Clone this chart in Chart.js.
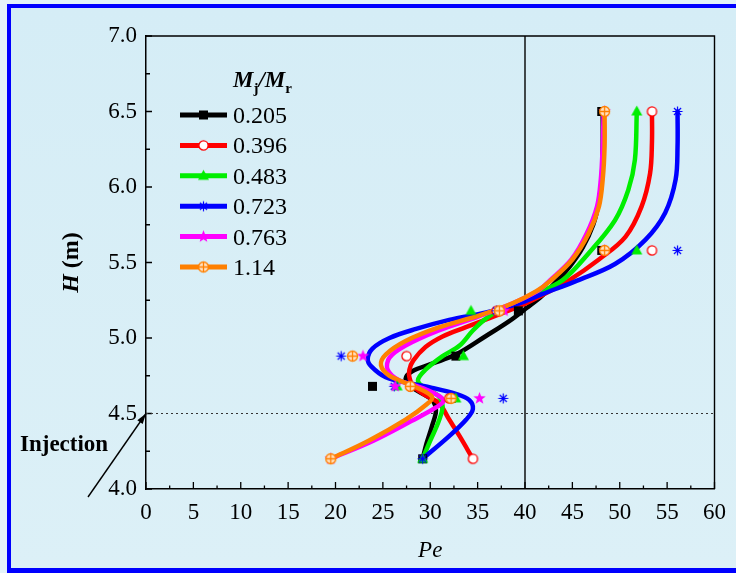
<!DOCTYPE html>
<html>
<head>
<meta charset="utf-8">
<script src="https://cdn.jsdelivr.net/npm/chart.js@4.4.1/dist/chart.umd.min.js"></script>
<style>
  html, body { margin: 0; padding: 0; }
  body { width: 736px; height: 573px; overflow: hidden; background: #e4f3f9; position: relative; }
  #frame {
    position: absolute; left: 7px; top: 4px; width: 740px; height: 560px;
    border-left: 4px solid #0000ff; border-top: 4px solid #0000ff; border-bottom: 5px solid #0000ff;
    background: linear-gradient(#d5edf6, #dcf0f7);
  }
  #chart { position: absolute; left: 0; top: 0; }
</style>
</head>
<body>
<div id="frame"></div>
<canvas id="chart" width="736" height="573"></canvas>
<script>
// Mj/Mr ratios (legend labels)
const ratios = ['0.205', '0.396', '0.483', '0.723', '0.763', '1.14'];
const colors = ['#000000', '#ff0000', '#00ee00', '#0000ff', '#ff00ff', '#ff8000'];
const markerKinds = ['square', 'circle', 'triangle', 'asterisk', 'star', 'oplus'];

// measured heights (m) and Pe at each height
const heights = [4.2, 4.6, 4.68, 4.88, 5.18, 5.58, 6.5];
const pe0205 = [29.2, 32.2, 23.9, 32.7, 39.3, 48.1, 48.1];
const pe0396 = [34.5, 32.0, 27.9, 27.5, 37.0, 53.4, 53.4];
const pe0483 = [29.2, 32.7, 26.5, 33.5, 34.3, 51.8, 51.8];
const pe0723 = [29.2, 37.7, 26.2, 20.6, 37.0, 56.1, 56.1];
const pe0763 = [19.5, 35.2, 26.3, 22.9, 37.8, 48.4, 48.4];
const pe114 = [19.5, 32.2, 27.9, 21.8, 37.3, 48.4, 48.4];

// fitted curves as [Pe, H]
const fit0205 = [[29.2,4.2],[29.6,4.3],[30.2,4.42],[30.6,4.52],[30.2,4.59],[29.2,4.63],[27.9,4.68],[27.4,4.73],[28.1,4.78],[30.2,4.83],[32.7,4.89],[35.8,5.01],[38.3,5.11],[40.2,5.2],[41.8,5.28],[43.4,5.38],[44.8,5.48],[46.1,5.6],[47.2,5.75],[47.8,5.9],[48.1,6.05],[48.2,6.27],[48.2,6.5]];
const fit0396 = [[34.5,4.2],[33.1,4.35],[32.0,4.46],[30.9,4.57],[29.5,4.62],[28.2,4.68],[27.8,4.74],[27.8,4.79],[28.2,4.85],[29.5,4.94],[31.3,5.01],[33.7,5.07],[36.6,5.14],[39.4,5.21],[41.7,5.28],[44.6,5.38],[47.8,5.52],[50.6,5.67],[52.3,5.87],[53.2,6.09],[53.4,6.3],[53.4,6.5]];
const fit0483 = [[29.2,4.2],[30.0,4.32],[30.9,4.45],[31.3,4.55],[30.8,4.62],[29.4,4.67],[28.7,4.72],[29.5,4.79],[31.3,4.88],[33.1,4.95],[34.5,5.05],[35.9,5.13],[37.5,5.19],[40.3,5.27],[43.9,5.38],[46.7,5.56],[49.5,5.78],[50.9,5.98],[51.6,6.18],[51.8,6.5]];
const fit0723 = [[29.2,4.2],[32.0,4.35],[33.8,4.46],[34.5,4.53],[34.1,4.59],[32.7,4.63],[30.2,4.67],[27.8,4.7],[25.3,4.74],[23.8,4.81],[23.4,4.86],[23.9,4.93],[25.7,5.0],[28.5,5.06],[32.0,5.12],[35.9,5.17],[39.4,5.23],[41.8,5.29],[45.5,5.38],[49.5,5.49],[52.7,5.65],[54.8,5.83],[55.9,6.05],[56.1,6.27],[56.1,6.5]];
const fit0763 = [[19.5,4.2],[24.0,4.32],[28.0,4.45],[30.6,4.54],[31.4,4.59],[29.5,4.66],[26.7,4.72],[25.5,4.79],[25.7,4.87],[27.4,4.95],[30.9,5.05],[35.0,5.14],[38.7,5.23],[41.3,5.31],[42.6,5.38],[44.9,5.52],[46.5,5.69],[47.6,5.87],[48.0,6.05],[48.2,6.27],[48.3,6.5]];
const fit114 = [[19.5,4.2],[23.5,4.32],[27.4,4.46],[29.6,4.56],[30.2,4.61],[28.3,4.68],[25.7,4.75],[24.8,4.82],[25.3,4.89],[27.4,4.98],[30.9,5.07],[35.2,5.15],[38.7,5.23],[41.2,5.31],[42.7,5.38],[45.0,5.52],[46.7,5.69],[47.8,5.87],[48.2,6.05],[48.4,6.27],[48.4,6.5]];

const peSeries = [pe0205, pe0396, pe0483, pe0723, pe0763, pe114];
const fitSeries = [fit0205, fit0396, fit0483, fit0723, fit0763, fit114];

const xTicks = [0, 5, 10, 15, 20, 25, 30, 35, 40, 45, 50, 55, 60];
const yTicks = [4.0, 4.5, 5.0, 5.5, 6.0, 6.5, 7.0];
const injectionH = 4.5;
const refPe = 40;

const SERIF = '"Liberation Serif", "Times New Roman", serif';

function makeMarker(kind, color) {
  const c = document.createElement('canvas');
  c.width = 15; c.height = 15;
  const g = c.getContext('2d');
  const m = 7.5;
  g.strokeStyle = color; g.fillStyle = color; g.lineWidth = 1.3;
  if (kind === 'square') {
    g.fillRect(m - 4.5, m - 4.5, 9, 9);
  } else if (kind === 'circle') {
    g.beginPath(); g.arc(m, m, 4.6, 0, Math.PI * 2);
    g.fillStyle = '#ffffff'; g.fill(); g.stroke();
  } else if (kind === 'triangle') {
    g.beginPath(); g.moveTo(m, m - 6); g.lineTo(m + 5.5, m + 4); g.lineTo(m - 5.5, m + 4); g.closePath(); g.fill();
  } else if (kind === 'asterisk') {
    g.lineWidth = 1.2;
    g.beginPath();
    for (let k = 0; k < 4; k++) {
      const a = k * Math.PI / 4;
      g.moveTo(m - 5 * Math.cos(a), m - 5 * Math.sin(a));
      g.lineTo(m + 5 * Math.cos(a), m + 5 * Math.sin(a));
    }
    g.stroke();
  } else if (kind === 'star') {
    g.beginPath();
    for (let k = 0; k < 10; k++) {
      const r = k % 2 === 0 ? 6.5 : 2.7;
      const a = -Math.PI / 2 + k * Math.PI / 5;
      const px = m + r * Math.cos(a), py = m + r * Math.sin(a);
      if (k === 0) g.moveTo(px, py); else g.lineTo(px, py);
    }
    g.closePath(); g.fill();
  } else if (kind === 'oplus') {
    g.beginPath(); g.arc(m, m, 5, 0, Math.PI * 2);
    g.fillStyle = '#ffe2c4'; g.fill(); g.stroke();
    g.beginPath(); g.moveTo(m - 5, m); g.lineTo(m + 5, m); g.moveTo(m, m - 5); g.lineTo(m, m + 5); g.stroke();
  }
  return c;
}

const markers = markerKinds.map((k, i) => makeMarker(k, colors[i]));

const datasets = [];
fitSeries.forEach((fit, i) => {
  datasets.push({
    label: 'fit ' + ratios[i],
    data: fit.map(p => ({ x: p[0], y: p[1] })),
    showLine: true,
    borderColor: colors[i],
    borderWidth: 4.5,
    borderCapStyle: 'round',
    borderJoinStyle: 'round',
    tension: 0.35,
    pointRadius: 0,
    order: 20 - i
  });
});
peSeries.forEach((pe, i) => {
  datasets.push({
    label: ratios[i],
    data: pe.map((v, j) => ({ x: v, y: heights[j] })),
    showLine: false,
    pointStyle: markers[i],
    pointRadius: 5,
    order: 10 - i
  });
});

const framePlugin = {
  id: 'frame',
  beforeDatasetsDraw(chart) {
    const { ctx, chartArea: a, scales: { x, y } } = chart;
    ctx.save();
    ctx.strokeStyle = '#000';
    ctx.lineWidth = 1.4;
    // top and right edges of the box
    ctx.beginPath();
    ctx.moveTo(a.left, a.top); ctx.lineTo(a.right, a.top); ctx.lineTo(a.right, a.bottom);
    ctx.stroke();
    // reference line at Pe = 40
    ctx.beginPath();
    ctx.moveTo(x.getPixelForValue(refPe), a.top); ctx.lineTo(x.getPixelForValue(refPe), a.bottom);
    ctx.stroke();
    // inward ticks
    ctx.lineWidth = 1.3;
    ctx.beginPath();
    for (let v = 0; v <= 60; v += 2.5) {
      const px = x.getPixelForValue(v);
      const len = v % 5 === 0 ? 7 : 3.5;
      ctx.moveTo(px, a.bottom); ctx.lineTo(px, a.bottom - len);
    }
    for (let v = 4; v <= 7.001; v += 0.25) {
      const py = y.getPixelForValue(v);
      const len = Math.abs(v * 2 - Math.round(v * 2)) < 1e-6 ? 6 : 4;
      ctx.moveTo(a.left, py); ctx.lineTo(a.left + len, py);
    }
    ctx.stroke();
    // dotted injection level
    ctx.strokeStyle = '#333';
    ctx.lineWidth = 1.2;
    ctx.setLineDash([2, 3]);
    ctx.beginPath();
    const yi = y.getPixelForValue(injectionH);
    ctx.moveTo(a.left, yi); ctx.lineTo(a.right, yi);
    ctx.stroke();
    ctx.restore();
  },
  afterDraw(chart) {
    const { ctx, chartArea: a, scales: { y } } = chart;
    ctx.save();
    ctx.fillStyle = '#000';
    ctx.textBaseline = 'alphabetic';

    // axis titles
    ctx.font = 'italic 23px ' + SERIF;
    ctx.textAlign = 'center';
    ctx.fillText('Pe', (a.left + a.right) / 2, 557);

    ctx.save();
    ctx.translate(78, (a.top + a.bottom) / 2);
    ctx.rotate(-Math.PI / 2);
    ctx.textAlign = 'left';
    ctx.font = 'bold italic 24px ' + SERIF;
    const hw = ctx.measureText('H').width;
    ctx.font = 'bold 24px ' + SERIF;
    const mw = ctx.measureText(' (m)').width;
    let sx = -(hw + mw) / 2;
    ctx.font = 'bold italic 24px ' + SERIF;
    ctx.fillText('H', sx, 0);
    ctx.font = 'bold 24px ' + SERIF;
    ctx.fillText(' (m)', sx + hw, 0);
    ctx.restore();

    // injection annotation
    ctx.textAlign = 'left';
    ctx.font = 'bold 23px ' + SERIF;
    ctx.fillText('Injection', 20, 451);
    const tipX = a.left, tipY = y.getPixelForValue(injectionH);
    const tailX = 88, tailY = 497;
    ctx.strokeStyle = '#000';
    ctx.lineWidth = 1.4;
    ctx.beginPath(); ctx.moveTo(tailX, tailY); ctx.lineTo(tipX, tipY); ctx.stroke();
    const ang = Math.atan2(tipY - tailY, tipX - tailX);
    ctx.beginPath();
    ctx.moveTo(tipX, tipY);
    ctx.lineTo(tipX - 11 * Math.cos(ang - 0.3), tipY - 11 * Math.sin(ang - 0.3));
    ctx.lineTo(tipX - 11 * Math.cos(ang + 0.3), tipY - 11 * Math.sin(ang + 0.3));
    ctx.closePath(); ctx.fill();

    // legend title Mj/Mr
    let tx = 233;
    const base = 87;
    const part = (txt, font, dy) => { ctx.font = font; ctx.fillText(txt, tx, base + dy); tx += ctx.measureText(txt).width; };
    part('M', 'bold italic 23px ' + SERIF, 0);
    part('j', 'bold 15px ' + SERIF, 6);
    part('/', 'bold italic 23px ' + SERIF, 0);
    part('M', 'bold italic 23px ' + SERIF, 0);
    part('r', 'bold 15px ' + SERIF, 6);

    // legend rows
    ctx.font = '24px ' + SERIF;
    ratios.forEach((r, i) => {
      const ry = 115 + i * 30.4;
      ctx.strokeStyle = colors[i];
      ctx.lineWidth = 5;
      ctx.beginPath(); ctx.moveTo(180, ry); ctx.lineTo(227, ry); ctx.stroke();
      ctx.drawImage(markers[i], 203.5 - markers[i].width / 2, ry - markers[i].height / 2);
      ctx.fillStyle = '#000';
      ctx.fillText(r, 233, ry + 8);
    });
    ctx.restore();
  }
};

new Chart(document.getElementById('chart'), {
  type: 'scatter',
  data: { datasets: datasets },
  options: {
    responsive: false,
    animation: false,
    layout: { padding: { left: 0, top: 36, right: 20, bottom: 0 } },
    plugins: { legend: { display: false }, tooltip: { enabled: false } },
    scales: {
      x: {
        type: 'linear', min: 0, max: 60,
        afterBuildTicks: s => { s.ticks = xTicks.map(v => ({ value: v })); },
        ticks: { font: { family: SERIF, size: 23 }, color: '#000', padding: 10, maxRotation: 0 },
        grid: { display: false, drawTicks: false },
        border: { display: true, color: '#000', width: 1.5 },
        afterFit: s => { s.height = 84; }
      },
      y: {
        type: 'linear', min: 4, max: 7,
        afterBuildTicks: s => { s.ticks = yTicks.map(v => ({ value: v })); },
        ticks: { font: { family: SERIF, size: 23 }, color: '#000', padding: 9, callback: v => v.toFixed(1) },
        grid: { display: false, drawTicks: false },
        border: { display: true, color: '#000', width: 1.5 },
        afterFit: s => { s.width = 146; }
      }
    }
  },
  plugins: [framePlugin]
});
</script>
</body>
</html>
